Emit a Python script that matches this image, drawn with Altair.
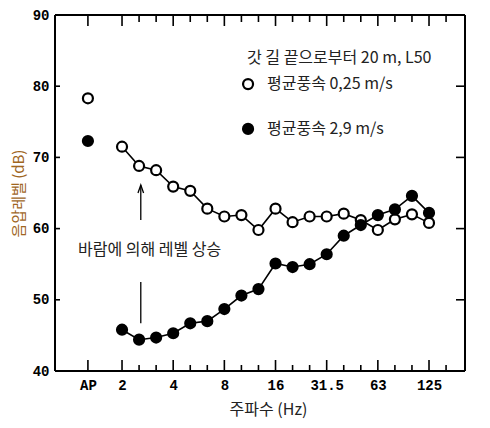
import altair as alt
import pandas as pd

# ---- data -------------------------------------------------------------
bands = ["2", "2.5", "3.15", "4", "5", "6.3", "8", "10", "12.5", "16",
         "20", "25", "31.5", "40", "50", "63", "80", "100", "125"]
calm_db = [71.5, 68.8, 68.2, 65.9, 65.3, 62.8, 61.7, 61.9, 59.8, 62.8,
           60.9, 61.7, 61.7, 62.1, 61.2, 59.8, 61.3, 62.0, 60.8]
windy_db = [45.8, 44.4, 44.7, 45.3, 46.7, 47.0, 48.7, 50.6, 51.5, 55.1,
            54.6, 55.0, 56.4, 59.0, 60.5, 61.9, 62.7, 64.6, 62.2]
ap_calm = 78.3
ap_windy = 72.3

series_names = ["평균풍속  0,25 m/s", "평균풍속  2,9 m/s"]
legend_title = "갓 길 끝으로부터 20 m, L50"
note_text = "바람에 의해 레벨 상승"

major_idx = [-2, 0, 3, 6, 9, 12, 15, 18]
major_lbl = ["AP", "2", "4", "8", "16", "31.5", "63", "125"]
minor_idx = [1, 2, 4, 5, 7, 8, 10, 11, 13, 14, 16, 17, 19]
y_ticks = [40, 50, 60, 70, 80, 90]

X_DOM = [-3.93, 20.11]
Y_DOM = [40, 90]

KR = "Noto Sans CJK KR"
NUM = "Liberation Mono"

# ---- tables -----------------------------------------------------------
rows = []
for i, b in enumerate(bands):
    rows.append({"idx": i, "band": b, "db": calm_db[i], "s": "calm"})
    rows.append({"idx": i, "band": b, "db": windy_db[i], "s": "windy"})
lines_df = pd.DataFrame(rows)
pts_df = pd.concat([
    lines_df,
    pd.DataFrame([{"idx": -2, "band": "AP", "db": ap_calm, "s": "calm"},
                  {"idx": -2, "band": "AP", "db": ap_windy, "s": "windy"}]),
], ignore_index=True)

xs = alt.Scale(domain=X_DOM, nice=False, zero=False)
ys = alt.Scale(domain=Y_DOM, nice=False, zero=False)
fill_scale = alt.Scale(domain=["calm", "windy"], range=["white", "black"])

label_expr = "{}[indexof({}, datum.value)]".format(
    "[" + ",".join("'%s'" % l for l in major_lbl) + "]",
    "[" + ",".join(str(v) for v in major_idx) + "]")

x_axis = alt.Axis(values=major_idx, labelExpr=label_expr, ticks=False, domain=False,
                  grid=False, labelFont=NUM, labelFontWeight="bold", labelFontSize=14,
                  labelColor="black", labelPadding=7,
                  title="주파수 (Hz)", titleFont=KR, titleFontSize=16,
                  titleFontWeight="normal", titleColor="#222222",
                  titleX=213, titleY=38, titleBaseline="middle")
y_axis = alt.Axis(values=y_ticks, ticks=False, domain=False, grid=False,
                  labelFont=NUM, labelFontWeight="bold", labelFontSize=14,
                  labelColor="black", labelPadding=6,
                  title="음압레벨 (dB)", titleFont=KR, titleFontSize=15,
                  titleFontWeight="normal", titleColor="#A0661E",
                  titleX=-37, titleBaseline="middle", titleAngle=-90)

X = alt.X("idx:Q")
Y = alt.Y("db:Q")

lines = alt.Chart(lines_df).mark_line(color="black", strokeWidth=1.6).encode(
    x=alt.X("idx:Q", scale=xs, axis=x_axis),
    y=alt.Y("db:Q", scale=ys, axis=y_axis),
    detail="s:N",
)

points = alt.Chart(pts_df).mark_point(shape="circle", filled=True, size=100,
                                      stroke="black", strokeWidth=2.2, opacity=1).encode(
    x=X, y=Y,
    fill=alt.Fill("s:N", scale=fill_scale, legend=None),
)

# ---- line segments: frame, inward ticks and arrow shafts in one table ----
PX_PER_DB = 356 / 50.0
PX_PER_IDX = 410 / (X_DOM[1] - X_DOM[0])
seg = []
# frame
seg.append({"x1": X_DOM[0], "x2": X_DOM[1], "y1": 40.0, "y2": 40.0, "w": 2.0})
seg.append({"x1": X_DOM[0], "x2": X_DOM[1], "y1": 90.0, "y2": 90.0, "w": 2.0})
seg.append({"x1": X_DOM[0], "x2": X_DOM[0], "y1": 40.0, "y2": 90.0, "w": 2.0})
seg.append({"x1": X_DOM[1], "x2": X_DOM[1], "y1": 40.0, "y2": 90.0, "w": 2.0})
# ticks
for v in major_idx:
    seg.append({"x1": float(v), "x2": float(v), "y1": 40.0, "y2": 40 + 11 / PX_PER_DB, "w": 1.6})
    seg.append({"x1": float(v), "x2": float(v), "y1": 90.0, "y2": 90 - 11 / PX_PER_DB, "w": 1.6})
for v in minor_idx:
    seg.append({"x1": float(v), "x2": float(v), "y1": 40.0, "y2": 40 + 6 / PX_PER_DB, "w": 1.6})
    seg.append({"x1": float(v), "x2": float(v), "y1": 90.0, "y2": 90 - 7 / PX_PER_DB, "w": 1.6})
for v in y_ticks[1:-1]:
    seg.append({"x1": X_DOM[0], "x2": X_DOM[0] + 5 / PX_PER_IDX, "y1": float(v), "y2": float(v), "w": 1.6})
    seg.append({"x1": X_DOM[1], "x2": X_DOM[1] - 9 / PX_PER_IDX, "y1": float(v), "y2": float(v), "w": 1.6})
# arrow shafts
seg.append({"x1": 1.1, "x2": 1.1, "y1": 61.2, "y2": 66.1, "w": 1.3})
seg.append({"x1": 1.1, "x2": 1.1, "y1": 46.7, "y2": 52.5, "w": 1.3})
seg_df = pd.DataFrame(seg)

segments = alt.Chart(seg_df).mark_rule(color="black").encode(
    x=alt.X("x1:Q"), x2="x2:Q", y=alt.Y("y1:Q"), y2="y2:Q",
    strokeWidth=alt.StrokeWidth("w:Q", scale=None),
)

# legend (drawn inside the plot)
leg_df = pd.DataFrame({"idx": [7.39, 7.39], "db": [80.3, 74.0], "s": ["calm", "windy"],
                       "tx": [8.5, 8.5], "label": series_names})
leg_pts = alt.Chart(leg_df).mark_point(shape="circle", filled=True, size=100,
                                       stroke="black", strokeWidth=2.2, opacity=1).encode(
    x=X, y=Y, fill=alt.Fill("s:N", scale=fill_scale, legend=None),
)
leg_txt = alt.Chart(leg_df).mark_text(align="left", baseline="middle", font=KR,
                                      fontSize=16, color="#222222").encode(
    x=alt.X("tx:Q"), y=Y, text="label:N",
)
ttl_df = pd.DataFrame({"idx": [7.33, -2.58], "db": [84.0, 57.0],
                       "label": [legend_title, note_text]})
ttl_txt = alt.Chart(ttl_df).mark_text(align="left", baseline="middle", font=KR,
                                      fontSize=16, color="#222222").encode(
    x=X, y=Y, text="label:N",
)

head_df = pd.DataFrame({"idx": [1.1], "db": [65.55]})
head = alt.Chart(head_df).mark_point(shape="M -0.7 1 L 0 -1 L 0.7 1", filled=False,
                                     size=64, stroke="black", strokeWidth=1.3,
                                     opacity=1).encode(x=X, y=Y)

chart = alt.layer(
    lines, segments, head, points, leg_pts, leg_txt, ttl_txt
).properties(
    width=410, height=356,
    autosize=alt.AutoSizeParams(type="none"),
    padding={"left": 47, "top": 7, "right": 17, "bottom": 49},
    background="white",
).configure_view(strokeWidth=0)

chart.save("out.html", embed_options={"renderer": "svg", "actions": False})
